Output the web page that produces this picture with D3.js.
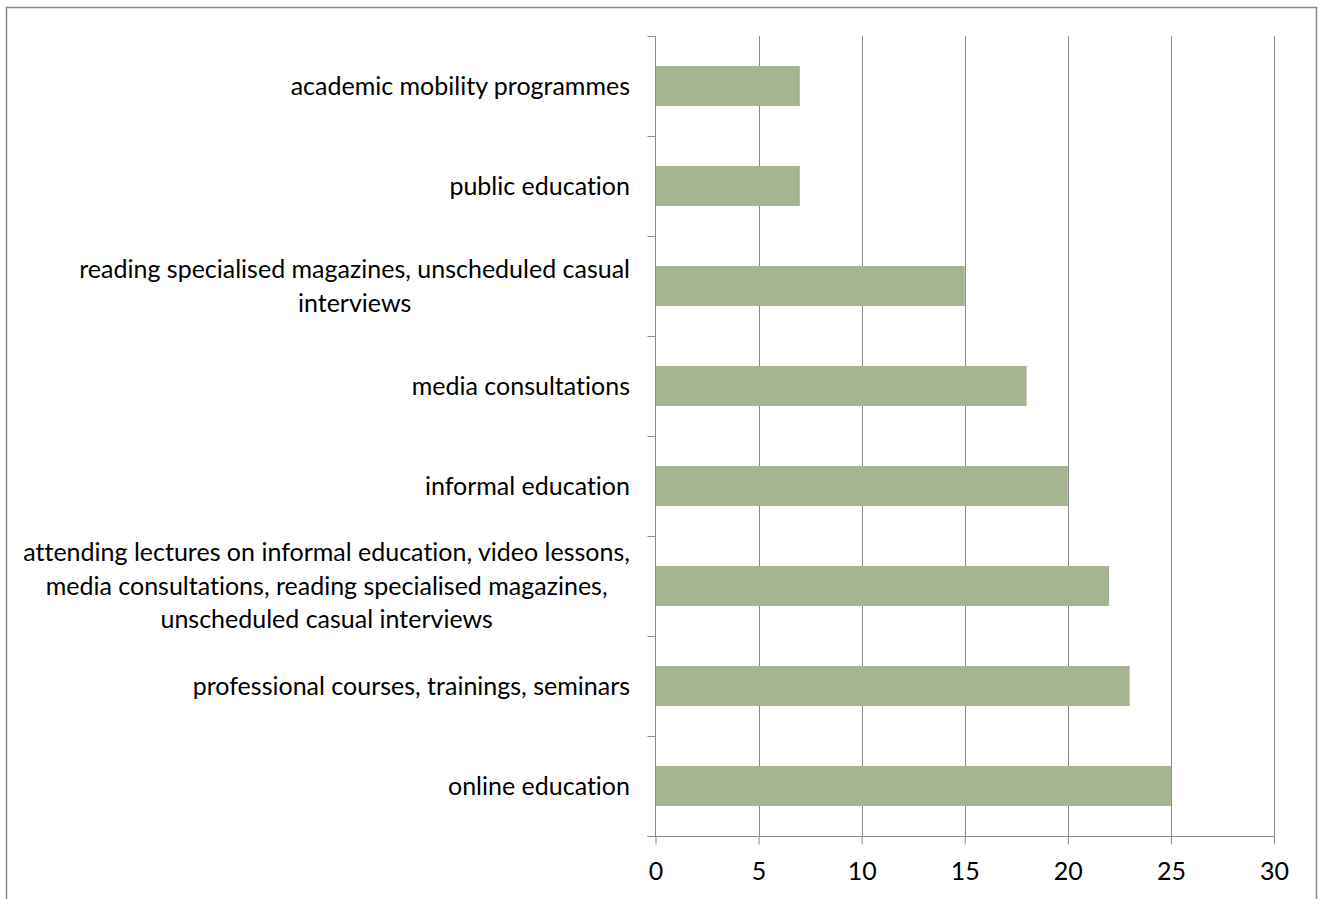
<!DOCTYPE html>
<html>
<head>
<meta charset="utf-8">
<script src="https://cdn.jsdelivr.net/npm/d3@7"></script>
<style>
  html, body { margin: 0; padding: 0; background: #fff; }
  svg { display: block; }
  text { font-family: Lato, "Open Sans", sans-serif; fill: #000; font-variant-ligatures: none; font-feature-settings: "liga" 0, "clig" 0; }
</style>
</head>
<body>
<svg id="chart" width="1319" height="899"></svg>
<script>
// Category labels (top to bottom), lines split where the label wraps
const categories = [
  ["academic mobility programmes"],
  ["public education"],
  ["reading specialised magazines, unscheduled casual", "interviews"],
  ["media consultations "],
  ["informal education"],
  ["attending lectures on informal education, video lessons,", "media consultations, reading specialised magazines,", "unscheduled casual interviews"],
  ["professional courses, trainings, seminars"],
  ["online education"]
];
const values = [7, 7, 15, 18, 20, 22, 23, 25];
const xTicks = [0, 5, 10, 15, 20, 25, 30];

const svg = d3.select("#chart");
const W = 1319, H = 899;
const plot = { left: 655.5, right: 1274, top: 36, bottom: 836 };
const gridColor = "#8c8c8c";
const barColor = "#a6b591";
const fontSize = 25;
const lineHeight = 33.5;

// Outer chart frame (top, left and right edges)
svg.append("path")
  .attr("d", `M6.5,${H} V7.5 H1316.5 V${H}`)
  .attr("fill", "none")
  .attr("stroke", "#8a8a8a")
  .attr("stroke-width", 1.5);

const x = d3.scaleLinear().domain([0, 30]).range([plot.left, plot.right]);
const y = d3.scaleBand().domain(d3.range(categories.length)).range([plot.top, plot.bottom]).paddingInner(0.6).paddingOuter(0.3);
const band = d3.scaleBand().domain(d3.range(categories.length)).range([plot.top, plot.bottom]);

// Vertical gridlines
svg.append("g").selectAll("line")
  .data(xTicks.filter(t => t > 0))
  .join("line")
  .attr("x1", d => Math.round(x(d)) + 0.5)
  .attr("x2", d => Math.round(x(d)) + 0.5)
  .attr("y1", plot.top)
  .attr("y2", plot.bottom)
  .attr("stroke", gridColor)
  .attr("stroke-width", 1);

// Bars
svg.append("g").selectAll("rect")
  .data(values)
  .join("rect")
  .attr("x", x(0))
  .attr("y", (d, i) => y(i))
  .attr("width", d => x(d) - x(0))
  .attr("height", y.bandwidth())
  .attr("fill", barColor);

// Bottom value axis
const xAxis = svg.append("g")
  .attr("transform", `translate(0,${plot.bottom + 0.5})`)
  .call(d3.axisBottom(x).tickValues(xTicks).tickSize(8).tickSizeOuter(0).tickFormat(d3.format("d")));
xAxis.select(".domain").remove();
xAxis.append("line")
  .attr("x1", plot.left - 8).attr("x2", plot.right + 0.5)
  .attr("stroke", gridColor);
xAxis.selectAll(".tick line").attr("stroke", gridColor);
xAxis.selectAll(".tick text")
  .attr("y", 35)
  .attr("dy", "0.35em")
  .style("font-family", "Lato, 'Open Sans', sans-serif")
  .style("font-size", fontSize + "px")
  .attr("fill", "#000");

// Left category axis: line and boundary ticks
const yAxis = svg.append("g");
yAxis.append("line")
  .attr("x1", plot.left).attr("x2", plot.left)
  .attr("y1", plot.top).attr("y2", plot.bottom)
  .attr("stroke", gridColor);
yAxis.selectAll("line.tk")
  .data(d3.range(categories.length + 1))
  .join("line")
  .attr("class", "tk")
  .attr("x1", plot.left - 8).attr("x2", plot.left)
  .attr("y1", i => plot.top + i * band.step() + 0.5)
  .attr("y2", i => plot.top + i * band.step() + 0.5)
  .attr("stroke", gridColor);

// Category labels: each block right-aligned at the axis, lines centred within it
const labelRight = 630;
const labels = svg.append("g").selectAll("text")
  .data(categories)
  .join("text")
  .style("font-size", fontSize + "px");
labels.each(function(lines, i) {
  const t = d3.select(this);
  const cy = band(i) + band.bandwidth() / 2;
  const y0 = cy - (lines.length - 1) * lineHeight / 2;
  const spans = lines.map((ln, k) => t.append("tspan")
    .attr("y", y0 + k * lineHeight)
    .attr("dy", "0.35em")
    .attr("text-anchor", "middle")
    .text(ln));
  const maxW = d3.max(spans, s => s.node().getComputedTextLength());
  spans.forEach(s => s.attr("x", labelRight - maxW / 2));
});
</script>
</body>
</html>
